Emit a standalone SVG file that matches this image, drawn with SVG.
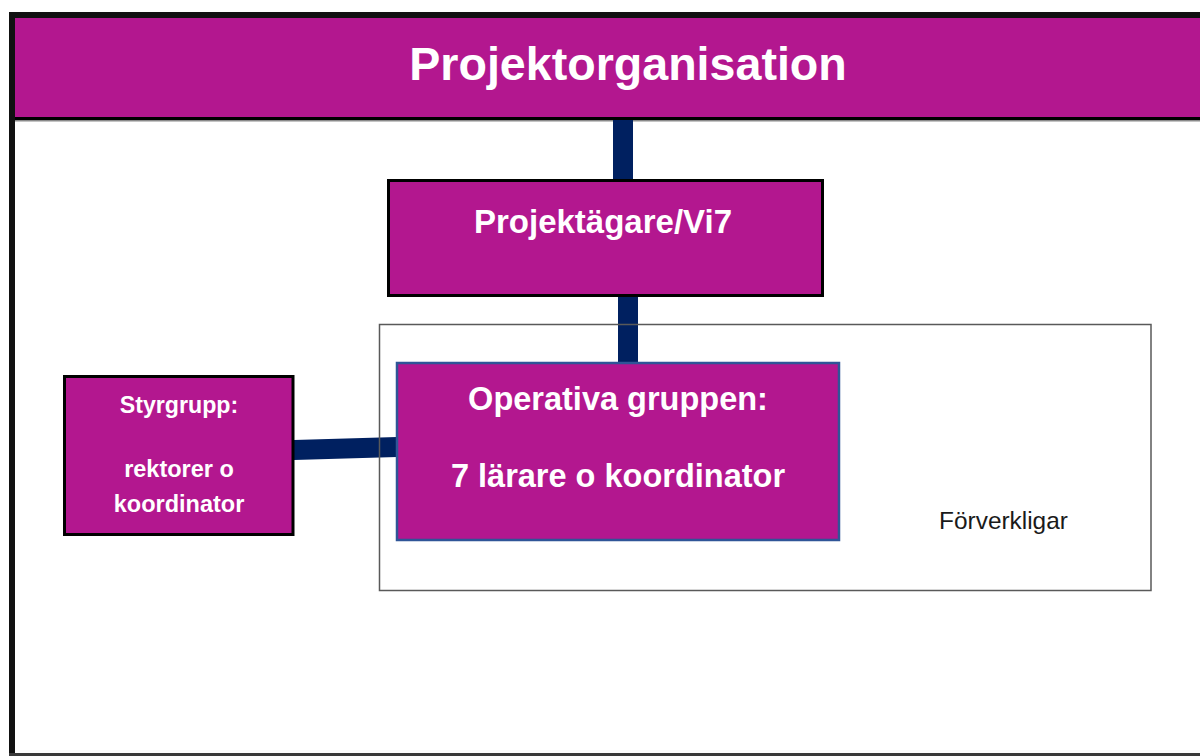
<svg xmlns="http://www.w3.org/2000/svg" width="1200" height="756" viewBox="0 0 1200 756">
  <style>
    .box { fill: #B3178F; }
    .lbl { font-family: "Liberation Sans", Arial, sans-serif; font-weight: bold; fill: #FFFFFF; text-anchor: middle; }
    .conn { fill: #002060; }
  </style>
  <rect x="0" y="0" width="1200" height="756" fill="#FFFFFF"/>
  <!-- outer frame -->
  <g id="frame">
    <rect x="9" y="12" width="6" height="744" fill="#111111"/>
    <rect x="9" y="12" width="1191" height="6" fill="#111111"/>
    <rect x="9" y="753" width="1191" height="3" fill="#3a3a3a"/>
  </g>
  <!-- header -->
  <g id="header">
    <rect class="box" x="15" y="18" width="1185" height="99"/>
    <rect x="15" y="117" width="1185" height="3" fill="#000000"/>
    <rect x="15" y="120" width="1185" height="1.5" fill="#8a8a8a"/>
    <text class="lbl" x="628" y="80" font-size="46.6">Projektorganisation</text>
  </g>
  <!-- connectors -->
  <g id="connectors">
    <rect class="conn" x="613" y="120" width="20" height="60"/>
    <rect class="conn" x="618" y="296" width="20" height="68"/>
    <polygon class="conn" points="294,440 397,437 397,457 294,460"/>
  </g>
  <!-- container -->
  <g id="container">
    <rect x="379.5" y="324.5" width="771.5" height="266" fill="none" stroke="#595959" stroke-width="1.5"/>
    <text x="1003.5" y="529" font-family="'Liberation Sans', Arial, sans-serif" font-size="24.4" fill="#1a1a1a" text-anchor="middle">Förverkligar</text>
  </g>
  <!-- nodes -->
  <g id="projektagare">
    <rect class="box" x="388.5" y="180.5" width="434" height="115" stroke="#000000" stroke-width="3"/>
    <text class="lbl" x="603" y="233" font-size="33">Projektägare/Vi7</text>
  </g>
  <g id="operativa">
    <rect class="box" x="397" y="363" width="442" height="177" stroke="#2F5597" stroke-width="2.5"/>
    <text class="lbl" x="618" y="410" font-size="32.5">Operativa gruppen:</text>
    <text class="lbl" x="618" y="487" font-size="32.5">7 lärare o koordinator</text>
  </g>
  <g id="styrgrupp">
    <rect class="box" x="64.5" y="376.5" width="228.5" height="158" stroke="#000000" stroke-width="3"/>
    <text class="lbl" x="179" y="413" font-size="23.2">Styrgrupp:</text>
    <text class="lbl" x="179" y="477" font-size="23.5">rektorer o</text>
    <text class="lbl" x="179" y="512" font-size="23.5">koordinator</text>
  </g>
</svg>
